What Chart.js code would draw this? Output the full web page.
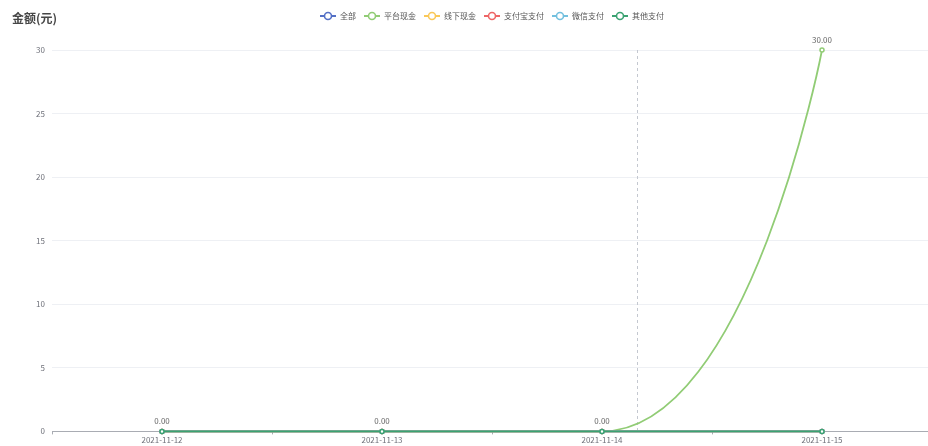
<!doctype html>
<html>

<head>
    <meta charset="utf-8">
    <title>金额(元)</title>
    <script src="https://cdn.jsdelivr.net/npm/chart.js"></script>
    <style>
        html, body { margin: 0; padding: 0; background: #fff; }
        #caixa { width: 928px; height: 446px; }
    </style>
</head>

<body>
    <div id="caixa">
        <canvas id="grafico"></canvas>
    </div>

    <script>
        // dados
        var datas = ['2021-11-12', '2021-11-13', '2021-11-14', '2021-11-15'];
        var nomes = ['全部', '平台现金', '线下现金', '支付宝支付', '微信支付', '其他支付'];
        var cores = ['#5470c6', '#91cc75', '#fac858', '#ee6666', '#73c0de', '#3ba272'];
        var todos = [0, 0, 0, 0];
        var plataforma = [0, 0, 0, 30];
        var offline = [0, 0, 0, 0];
        var alipay = [0, 0, 0, 0];
        var wechat = [0, 0, 0, 0];
        var outros = [0, 0, 0, 0];
        var valores = [todos, plataforma, offline, alipay, wechat, outros];
        var eixoY = [0, 5, 10, 15, 20, 25, 30];
        var serieComRotulo = 1;
        var ponteiroX = 2.16; // posicao do axisPointer (indice da categoria)

        var fonte = '"Noto Sans CJK SC", "Noto Sans", sans-serif';
        var suavidade = 0.5;
        var deslocLegenda = 24;
        var topoLegenda = 4;
        var extraDireita = 4; // a grade do original passa um pouco da borda

        // icone da legenda: linha + circulo vazio
        function icone(cor) {
            var c = document.createElement('canvas');
            c.width = 16; c.height = 10;
            var g = c.getContext('2d');
            g.strokeStyle = cor;
            g.lineWidth = 2;
            g.beginPath(); g.moveTo(0, 5); g.lineTo(16, 5); g.stroke();
            g.beginPath(); g.arc(8, 5, 3.5, 0, Math.PI * 2);
            g.fillStyle = '#fff'; g.fill();
            g.lineWidth = 1.6; g.stroke();
            return c;
        }
        var icones = cores.map(icone);

        // curva suave parecida com a do echarts
        var suave = {
            id: 'suave',
            beforeDatasetDraw(chart, args) {
                var pts = args.meta.data;
                for (var i = 0; i < pts.length; i++) {
                    var p = pts[i];
                    var ant = pts[i - 1], prox = pts[i + 1];
                    if (!ant || !prox) {
                        p.cp1x = p.x; p.cp1y = p.y; p.cp2x = p.x; p.cp2y = p.y;
                        continue;
                    }
                    var vx = prox.x - ant.x, vy = prox.y - ant.y;
                    var d0 = Math.hypot(p.x - ant.x, p.y - ant.y);
                    var d1 = Math.hypot(prox.x - p.x, prox.y - p.y);
                    var r = (d0 + d1) ? d1 / (d0 + d1) : 0.5;
                    if ((p.y >= ant.y && p.y >= prox.y) || (p.y <= ant.y && p.y <= prox.y)) vy = 0;
                    p.cp1x = p.x - vx * suavidade * (1 - r);
                    p.cp1y = p.y - vy * suavidade * (1 - r);
                    p.cp2x = p.x + vx * suavidade * r;
                    p.cp2y = p.y + vy * suavidade * r;
                }
                args.meta.dataset._pointsUpdated = true;
            }
        };

        var extras = {
            id: 'extras',
            afterLayout(chart) {
                var leg = chart.legend;
                var h = leg.bottom - leg.top;
                leg.left += deslocLegenda;
                leg.right += deslocLegenda;
                leg.top = topoLegenda;
                leg.bottom = topoLegenda + h;

                var sx = chart.scales.x;
                sx.right += extraDireita;
                sx.width += extraDireita;
                sx.configure();
            },
            beforeDatasetsDraw(chart) {
                var ctx = chart.ctx, area = chart.chartArea;
                var x = chart.scales.x.getPixelForValue(ponteiroX);
                ctx.save();
                ctx.strokeStyle = '#c4c8d0';
                ctx.lineWidth = 1;
                ctx.setLineDash([3, 3]);
                ctx.beginPath();
                ctx.moveTo(Math.round(x) + 0.5, area.top);
                ctx.lineTo(Math.round(x) + 0.5, area.bottom);
                ctx.stroke();
                ctx.restore();
            },
            afterDatasetsDraw(chart) {
                var ctx = chart.ctx;
                var meta = chart.getDatasetMeta(serieComRotulo);
                ctx.save();
                ctx.font = '8px ' + fonte;
                ctx.fillStyle = '#666';
                ctx.textAlign = 'center';
                ctx.textBaseline = 'middle';
                meta.data.forEach(function (p, i) {
                    ctx.fillText(valores[serieComRotulo][i].toFixed(2), p.x, p.y - 10);
                });
                ctx.restore();
            },
            afterDraw(chart) {
                var ctx = chart.ctx;
                ctx.save();
                ctx.font = 'bold 12px ' + fonte;
                ctx.fillStyle = '#464646';
                ctx.textBaseline = 'middle';
                ctx.fillText('金额(元)', 12, 18);
                ctx.restore();
            }
        };

        var grafico = new Chart(document.getElementById('grafico').getContext('2d'), {
            type: 'line',
            data: {
                labels: datas,
                datasets: nomes.map(function (nome, i) {
                    return {
                        label: nome,
                        data: valores[i],
                        borderColor: cores[i],
                        backgroundColor: '#fff',
                        borderWidth: 1.8,
                        tension: 0.4,
                        pointRadius: 2,
                        pointBorderWidth: 1.5,
                        pointBorderColor: cores[i],
                        pointBackgroundColor: '#fff',
                        clip: false,
                        order: nomes.length - i
                    };
                })
            },
            options: {
                responsive: true,
                maintainAspectRatio: false,
                animation: false,
                events: [],
                layout: { autoPadding: false, padding: { top: 0, left: 0, right: -8, bottom: 0 } },
                plugins: {
                    tooltip: { enabled: false },
                    legend: {
                        position: 'top',
                        labels: {
                            usePointStyle: true,
                            pointStyleWidth: 16,
                            padding: 8,
                            color: '#555',
                            font: { size: 8, family: fonte },
                            sort: function (a, b) { return a.datasetIndex - b.datasetIndex; },
                            generateLabels: function (chart) {
                                var itens = Chart.defaults.plugins.legend.labels.generateLabels(chart);
                                itens.forEach(function (it) { it.pointStyle = icones[it.datasetIndex]; });
                                return itens;
                            }
                        }
                    }
                },
                scales: {
                    x: {
                        offset: true,
                        afterFit: function (scale) {
                            scale.paddingLeft = 0;
                            scale.paddingRight = 0;
                        },
                        grid: {
                            offset: true,
                            drawOnChartArea: false,
                            drawTicks: true,
                            tickLength: 3,
                            color: '#a9acb3'
                        },
                        border: { color: '#a9acb3' },
                        ticks: {
                            color: '#6e7079',
                            padding: 1,
                            maxRotation: 0,
                            font: { size: 8, family: fonte }
                        }
                    },
                    y: {
                        min: 0,
                        max: 30,
                        afterFit: function (scale) {
                            scale.width = 52;
                            scale.paddingTop = 50;
                        },
                        afterBuildTicks: function (scale) {
                            scale.ticks = eixoY.map(function (v) { return { value: v }; });
                        },
                        grid: { color: '#eef0f4', drawTicks: false },
                        border: { display: false },
                        ticks: {
                            color: '#6e7079',
                            padding: 7,
                            font: { size: 8, family: fonte }
                        }
                    }
                }
            },
            plugins: [suave, extras]
        });
    </script>
</body>

</html>
